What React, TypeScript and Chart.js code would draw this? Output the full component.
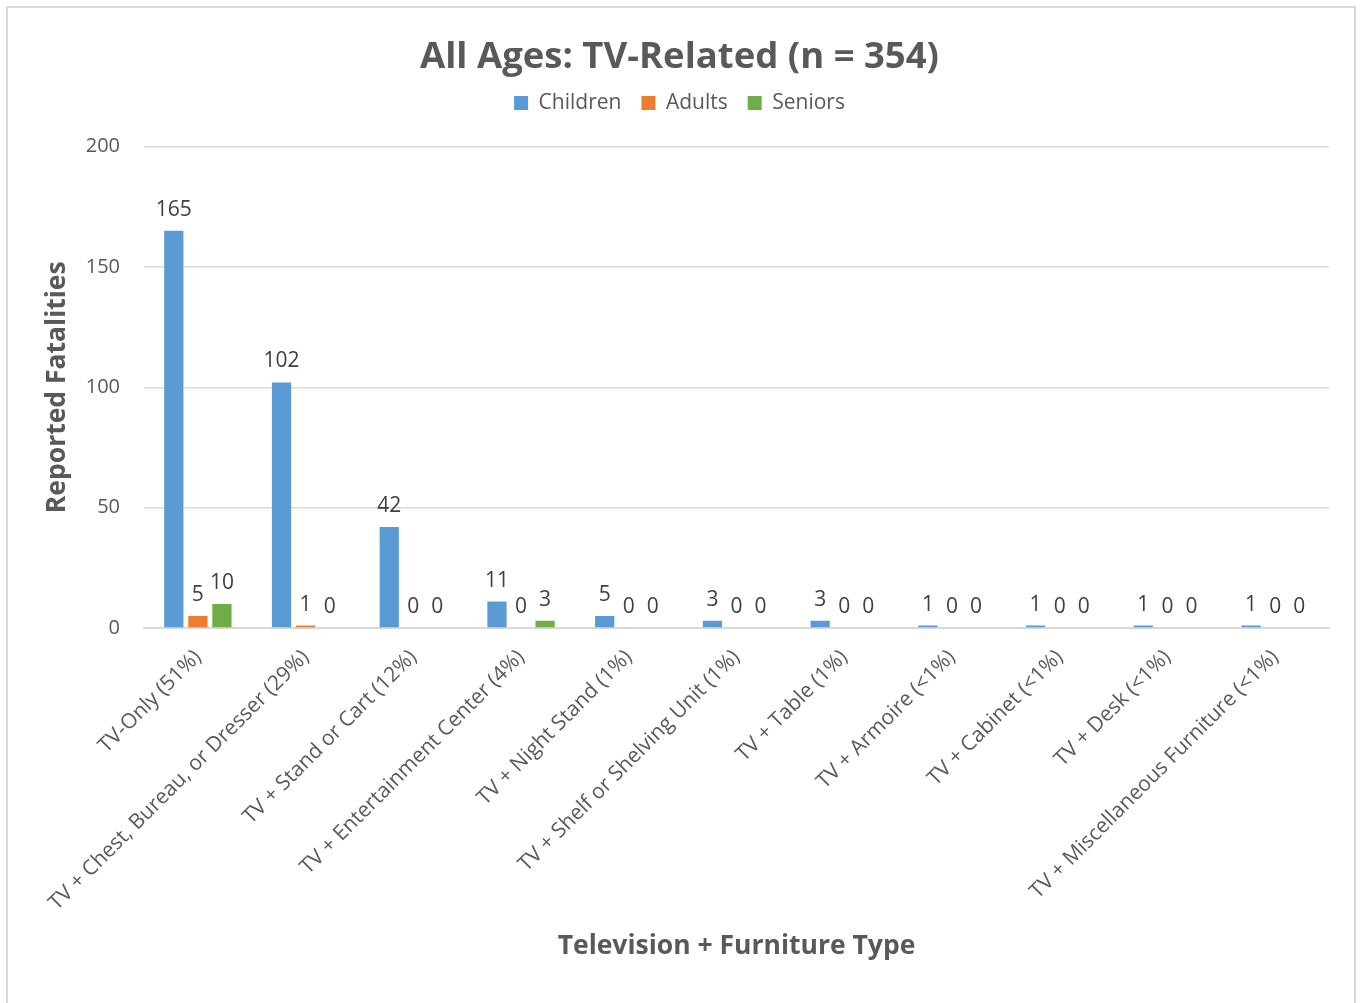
import React, { useEffect, useRef } from "react";
import { Chart, registerables } from "chart.js";

Chart.register(...registerables);

const categories = [
  "TV-Only (51%)",
  "TV + Chest, Bureau, or Dresser (29%)",
  "TV + Stand or Cart (12%)",
  "TV + Entertainment Center (4%)",
  "TV + Night Stand (1%)",
  "TV + Shelf or Shelving Unit (1%)",
  "TV + Table (1%)",
  "TV + Armoire (<1%)",
  "TV + Cabinet (<1%)",
  "TV + Desk (<1%)",
  "TV + Miscellaneous Furniture (<1%)",
];
const children = [165, 102, 42, 11, 5, 3, 3, 1, 1, 1, 1];
const adults = [5, 1, 0, 0, 0, 0, 0, 0, 0, 0, 0];
const seniors = [10, 0, 0, 3, 0, 0, 0, 0, 0, 0, 0];
const yTicks = [0, 50, 100, 150, 200];

const FONT = "'Open Sans', Lato, sans-serif";
const TEXT = "#595959";

const dataLabels = {
  id: "dataLabels",
  afterDatasetsDraw(chart: any) {
    const ctx = chart.ctx;
    ctx.save();
    ctx.font = `21px ${FONT}`;
    ctx.fillStyle = "#404040";
    ctx.textAlign = "center";
    ctx.textBaseline = "alphabetic";
    chart.data.datasets.forEach((ds: any, i: number) => {
      const meta = chart.getDatasetMeta(i);
      meta.data.forEach((el: any, j: number) => {
        ctx.fillText(String(ds.data[j]), el.x, el.y - 15);
      });
    });
    ctx.restore();
  },
};

const legendSpace = {
  id: "legendSpace",
  beforeInit(chart: any) {
    const lg = chart.legend;
    if (!lg) return;
    const orig = lg.fit;
    lg.fit = function () {
      orig.call(this);
      this.height += 23;
    };
  },
};

export default function App() {
  const ref = useRef<HTMLCanvasElement>(null);
  useEffect(() => {
    if (!ref.current) return;
    const chart = new Chart(ref.current, {
      type: "bar",
      data: {
        labels: categories,
        datasets: [
          { label: "Children", data: children, backgroundColor: "#5B9BD5" },
          { label: "Adults", data: adults, backgroundColor: "#ED7D31" },
          { label: "Seniors", data: seniors, backgroundColor: "#70AD47" },
        ],
      },
      plugins: [legendSpace, dataLabels],
      options: {
        responsive: false,
        animation: false,
        devicePixelRatio: 1,
        layout: { padding: { left: 30, right: 35, top: 30, bottom: 20 } },
        datasets: {
          bar: { categoryPercentage: 0.67, barPercentage: 0.8 },
        },
        plugins: {
          title: {
            display: true,
            text: "All Ages: TV-Related (n = 354)",
            color: TEXT,
            font: { family: FONT, size: 36.5, weight: "bold" },
            padding: { top: 6, bottom: -7.3 },
          },
          legend: {
            display: true,
            position: "top",
            labels: {
              color: TEXT,
              font: { family: FONT, size: 21 },
              boxWidth: 14,
              boxHeight: 14,
              padding: 20,
            },
          },
          tooltip: { enabled: false },
        },
        scales: {
          x: {
            grid: { display: false },
            border: { display: true, color: "#d9d9d9", width: 2 },
            ticks: {
              color: TEXT,
              font: { family: FONT, size: 21 },
              maxRotation: 45,
              minRotation: 45,
              padding: 9,
              autoSkip: false,
            },
            title: {
              display: true,
              text: "Television + Furniture Type",
              color: TEXT,
              font: { family: FONT, size: 26.5, weight: "bold" },
              padding: { top: 0, bottom: 21 },
            },
            afterFit(scale: any) {
              scale.height = 355;
            },
          },
          y: {
            min: 0,
            max: 200,
            afterBuildTicks(scale: any) {
              scale.ticks = yTicks.map((v) => ({ value: v }));
            },
            grid: {
              color: "#d9d9d9",
              lineWidth: 1.5,
              drawTicks: false,
            },
            border: { display: false },
            ticks: {
              color: TEXT,
              font: { family: FONT, size: 20 },
              padding: 24,
            },
            title: {
              display: true,
              text: "Reported Fatalities",
              color: TEXT,
              font: { family: FONT, size: 26.5, weight: "bold" },
              padding: { top: 12, bottom: 0 },
            },
            afterFit(scale: any) {
              scale.width = 114;
            },
          },
        },
      },
    });
    return () => chart.destroy();
  }, []);

  return (
    <div
      style={{
        position: "absolute",
        left: 0,
        top: 0,
        width: 1364,
        height: 1003,
        overflow: "hidden",
        background: "#fff",
      }}
    >
      <div
        style={{
          position: "absolute",
          left: 6,
          top: 6,
          width: 1350,
          height: 1020,
          border: "2px solid #d9d9d9",
          boxSizing: "border-box",
        }}
      />
      <canvas
        ref={ref}
        width={1364}
        height={1003}
        style={{ position: "absolute", left: 0, top: 0, width: 1364, height: 1003 }}
      />
    </div>
  );
}
